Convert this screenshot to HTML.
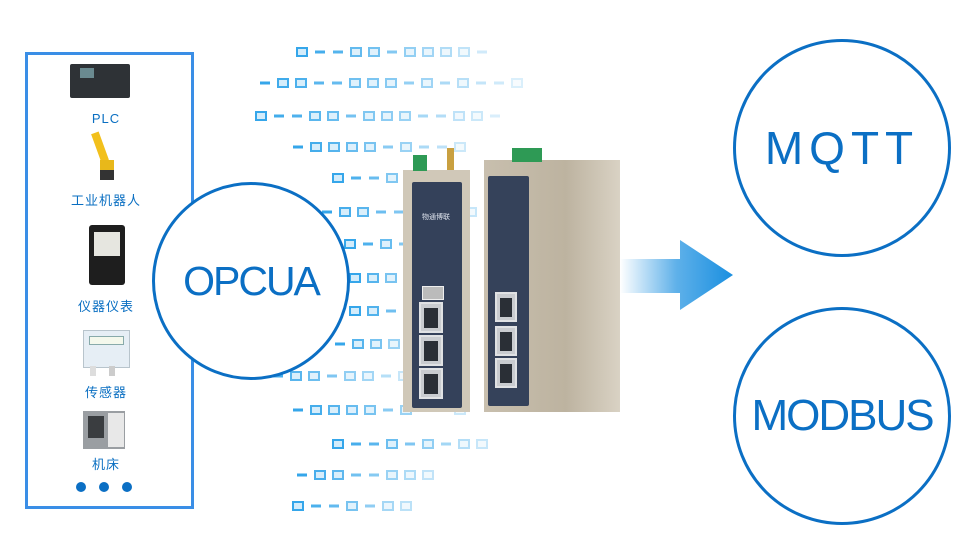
<!DOCTYPE html>
<html><head><meta charset="utf-8"><style>
body{margin:0;width:980px;height:560px;background:#fff;position:relative;overflow:hidden;font-family:"Liberation Sans","Noto Sans CJK SC",sans-serif}
.a{position:absolute}
.lbl{position:absolute;width:160px;left:26px;text-align:center;color:#0a6fc2;font-size:13px;letter-spacing:1px}
.circ{position:absolute;border:3px solid #0b6fc4;border-radius:50%;background:#fff;color:#0b6fc4;display:flex;align-items:center;justify-content:center}
.port{position:absolute;background:#c9ccd0;border:2px solid #e0e2e4}
.port:after{content:"";position:absolute;left:3px;top:4px;right:3px;bottom:3px;background:#2a2f36}
</style></head><body>
<svg class="a" style="left:0;top:0" width="980" height="560" id="dash"></svg>
<script>
var rows=[[52,297,"S--SS-SSSS-"],[83,260,"-SS--SSS-S-S--S"],[116,256,"S--SS-SSS--SS-"],[147,293,"-SSSS-S--S"],[178,333,"S--S-S"],[212,322,"-SS--S--S"],[244,345,"S-S--S"],[278,350,"SSS-"],[311,350,"SS--S"],[344,335,"-SSS"],[376,255,"--SS-SS-S"],[410,293,"-SSSS-S--S"],[444,333,"S--S-S-SS"],[475,297,"-SS--SSS"],[506,293,"S--S-SS"]];
var s="";rows.forEach(function(r){var y=r[0],x=r[1],p=r[2];for(var i=0;i<p.length;i++){var o=Math.max(0.12,1-i/(p.length+2));var xx=x+i*18;if(p[i]=="S")s+='<rect x="'+xx+'" y="'+(y-4)+'" width="10" height="8" fill="#d3ecfb" stroke="#35a6ea" stroke-width="2" opacity="'+o+'"/>';else s+='<rect x="'+xx+'" y="'+(y-1.5)+'" width="10" height="3" fill="#35a6ea" opacity="'+o+'"/>';}});
document.getElementById("dash").innerHTML=s;
</script>
<div class="a" style="left:25px;top:52px;width:163px;height:451px;border:3px solid #3a8ee6"></div>
<div class="a" style="left:70px;top:64px;width:60px;height:34px;background:#2e3236;border-radius:2px"></div>
<div class="a" style="left:80px;top:68px;width:14px;height:10px;background:#6a8a90"></div>
<div class="lbl" style="top:111px">PLC</div>
<div class="a" style="left:96px;top:132px;width:8px;height:30px;background:#f2c01c;transform:rotate(-20deg)"></div>
<div class="a" style="left:100px;top:160px;width:14px;height:12px;background:#e8b81a"></div>
<div class="a" style="left:100px;top:170px;width:14px;height:10px;background:#333"></div>
<div class="lbl" style="top:190px">工业机器人</div>
<div class="a" style="left:89px;top:225px;width:36px;height:60px;background:#1e1e1e;border-radius:3px"></div>
<div class="a" style="left:94px;top:232px;width:26px;height:24px;background:#e6e6e0"></div>
<div class="lbl" style="top:296px">仪器仪表</div>
<div class="a" style="left:83px;top:330px;width:45px;height:36px;background:#e6eef5;border:1px solid #b8c4cc"></div>
<div class="a" style="left:89px;top:336px;width:33px;height:7px;background:#f4f8ec;border:1px solid #8aa"></div>
<div class="a" style="left:90px;top:366px;width:6px;height:10px;background:#ddd"></div>
<div class="a" style="left:109px;top:366px;width:6px;height:10px;background:#ccc"></div>
<div class="lbl" style="top:382px">传感器</div>
<div class="a" style="left:83px;top:411px;width:42px;height:38px;background:#9a9ea2"></div>
<div class="a" style="left:108px;top:413px;width:16px;height:34px;background:#e8e8e8"></div>
<div class="a" style="left:88px;top:416px;width:16px;height:22px;background:#3a3d40"></div>
<div class="lbl" style="top:454px">机床</div>
<div class="a" style="left:76px;top:482px;width:10px;height:10px;border-radius:50%;background:#0b6fc4"></div>
<div class="a" style="left:99px;top:482px;width:10px;height:10px;border-radius:50%;background:#0b6fc4"></div>
<div class="a" style="left:122px;top:482px;width:10px;height:10px;border-radius:50%;background:#0b6fc4"></div>
<div class="circ" style="left:152px;top:182px;width:192px;height:192px;font-size:41px;letter-spacing:-2px">OPCUA</div>
<!-- devices -->
<div class="a" style="left:484px;top:160px;width:136px;height:252px;background:linear-gradient(90deg,#c8bfae,#bdb3a0 60%,#d9d2c4)"></div>
<div class="a" style="left:512px;top:148px;width:30px;height:14px;background:#2e9a55"></div>
<div class="a" style="left:488px;top:176px;width:41px;height:230px;background:#35425a;border-radius:2px"></div>
<div class="port" style="left:495px;top:292px;width:18px;height:26px"></div>
<div class="port" style="left:495px;top:326px;width:18px;height:26px"></div>
<div class="port" style="left:495px;top:358px;width:18px;height:26px"></div>
<div class="a" style="left:403px;top:170px;width:67px;height:242px;background:#d0c8b8"></div>
<div class="a" style="left:412px;top:182px;width:50px;height:226px;background:#34415a;border-radius:2px"></div>
<div class="a" style="left:413px;top:155px;width:14px;height:16px;background:#2e9a55"></div>
<div class="a" style="left:447px;top:148px;width:7px;height:22px;background:#c9a040"></div>
<div class="a" style="left:420px;top:203px;width:32px;height:22px;color:#dfe4ee;font-size:7px;text-align:center;line-height:30px">物通博联</div>
<div class="a" style="left:422px;top:286px;width:20px;height:12px;background:#bbb;border:1px solid #eee"></div>
<div class="port" style="left:419px;top:302px;width:20px;height:27px"></div>
<div class="port" style="left:419px;top:335px;width:20px;height:27px"></div>
<div class="port" style="left:419px;top:368px;width:20px;height:27px"></div>
<!-- arrow -->
<svg class="a" style="left:620px;top:235px" width="120" height="80"><defs><linearGradient id="g" x1="0" x2="1"><stop offset="0" stop-color="#1a8fe0" stop-opacity="0"/><stop offset="0.5" stop-color="#1a8fe0" stop-opacity="0.7"/><stop offset="1" stop-color="#1a8fe0"/></linearGradient></defs><polygon points="0,24 60,24 60,5 113,40 60,75 60,58 0,58" fill="url(#g)"/></svg>
<div class="circ" style="left:733px;top:39px;width:212px;height:212px;font-size:46px;letter-spacing:6px">MQTT</div>
<div class="circ" style="left:733px;top:307px;width:212px;height:212px;font-size:44px;letter-spacing:-2px">MODBUS</div>
</body></html>
